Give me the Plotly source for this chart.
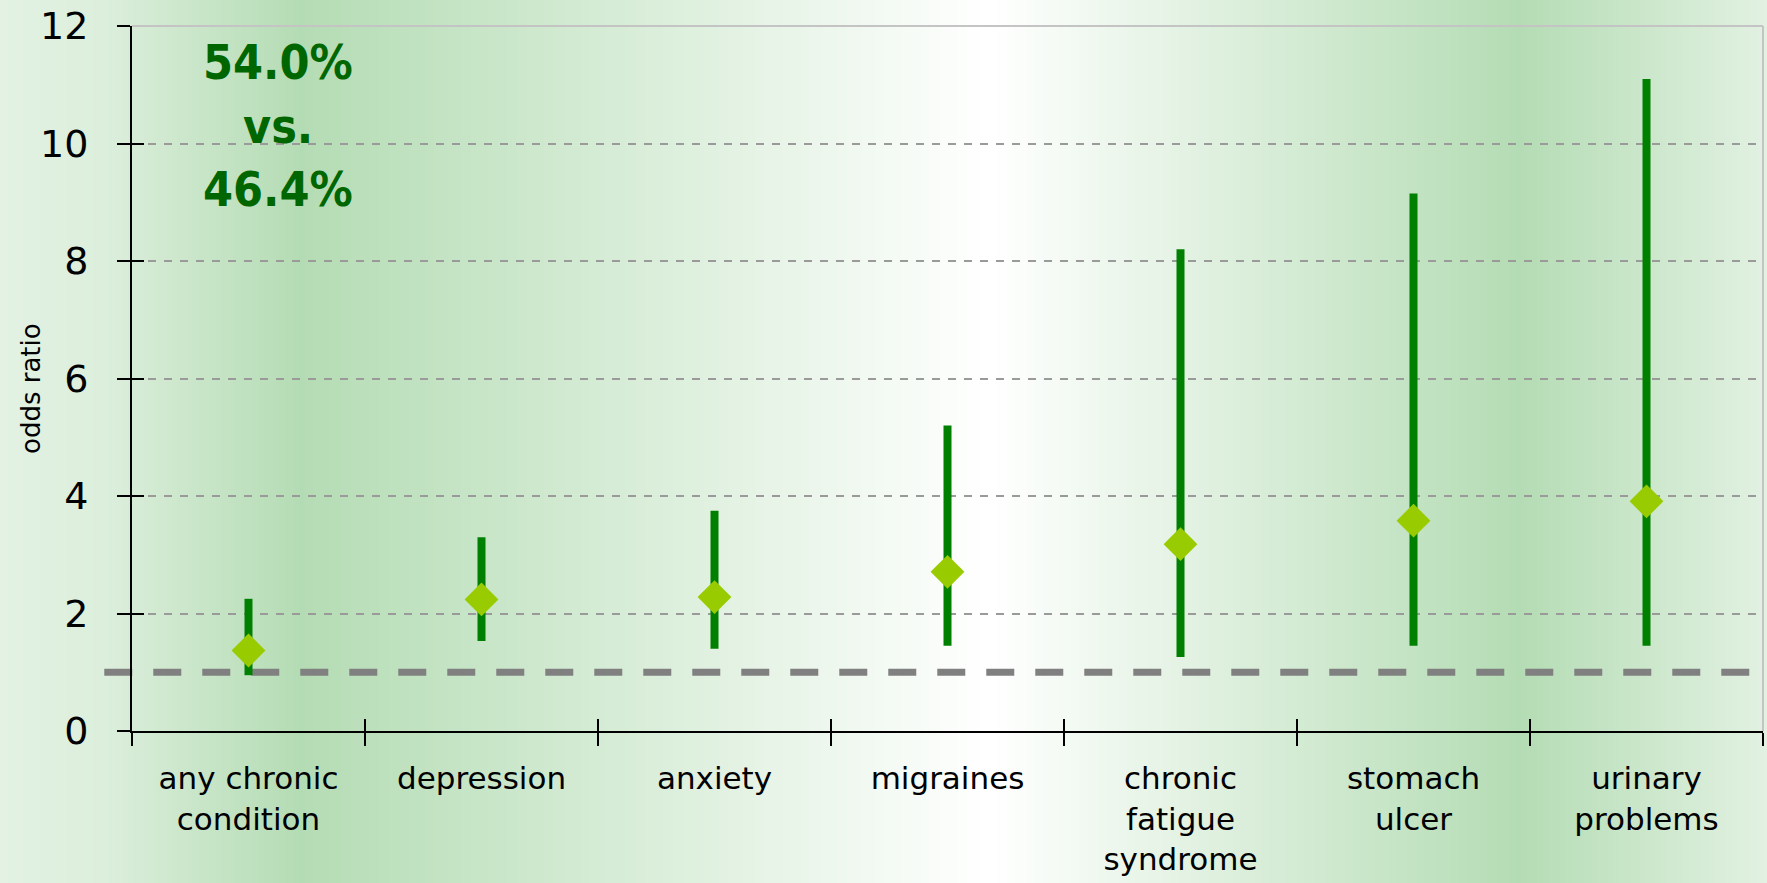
import base64
import struct
import zlib

import plotly.graph_objects as go

# ---------------- data ----------------
categories = [
    "any chronic<br>condition",
    "depression",
    "anxiety",
    "migraines",
    "chronic<br>fatigue<br>syndrome",
    "stomach<br>ulcer",
    "urinary<br>problems",
]
odds_ratio = [1.37, 2.24, 2.28, 2.71, 3.18, 3.58, 3.91]
ci_low = [0.95, 1.53, 1.40, 1.45, 1.26, 1.45, 1.45]
ci_high = [2.25, 3.30, 3.75, 5.20, 8.20, 9.15, 11.10]
y_ticks = [0, 2, 4, 6, 8, 10, 12]
reference_value = 1
annotation_lines = ["54.0%", "vs.", "46.4%"]

# ---------------- layout constants ----------------
W, H = 1767, 883
ML, MR, MT, MB = 132, 4, 26, 152
PW, PH = W - ML - MR, H - MT - MB
FONT = "DejaVu Sans, Verdana, sans-serif"
FONT_COND = "DejaVu Sans Condensed, DejaVu Sans, sans-serif"


def gradient_png(width, stops):
    """Build a 1-pixel-high horizontal gradient PNG as a data URI."""
    row = bytearray([0])
    for px in range(width):
        f = px / (width - 1)
        for i in range(len(stops) - 1):
            p0, c0 = stops[i]
            p1, c1 = stops[i + 1]
            if p0 <= f <= p1:
                t = 0 if p1 == p0 else (f - p0) / (p1 - p0)
                row += bytes(int(round(c0[k] + (c1[k] - c0[k]) * t)) for k in range(3))
                break
    raw = bytes(row)

    def chunk(tag, data):
        c = struct.pack(">I", len(data)) + tag + data
        return c + struct.pack(">I", zlib.crc32(tag + data) & 0xFFFFFFFF)

    png = b"\x89PNG\r\n\x1a\n"
    png += chunk(b"IHDR", struct.pack(">IIBBBBB", width, 1, 8, 2, 0, 0, 0))
    png += chunk(b"IDAT", zlib.compress(raw))
    png += chunk(b"IEND", b"")
    return "data:image/png;base64," + base64.b64encode(png).decode()


bg_stops = [
    (0.00, (227, 242, 227)),
    (0.06, (220, 238, 220)),
    (0.17, (180, 220, 180)),
    (0.56, (255, 255, 255)),
    (0.86, (180, 220, 180)),
    (1.00, (226, 241, 226)),
]
bg_uri = gradient_png(W, bg_stops)

# ---------------- traces ----------------
xs, ys = [], []
for c, lo, hi in zip(categories, ci_low, ci_high):
    xs += [c, c, None]
    ys += [lo, hi, None]

fig = go.Figure()
fig.add_trace(
    go.Scatter(
        x=xs, y=ys, mode="lines",
        line=dict(color="#008000", width=8),
        hoverinfo="skip", showlegend=False,
    )
)
fig.add_trace(
    go.Scatter(
        x=categories, y=odds_ratio, mode="markers",
        marker=dict(symbol="diamond", size=26, color="#99cc00", line=dict(width=0)),
        showlegend=False,
    )
)
# invisible trace to activate the overlay axes (inside half of cross ticks)
fig.add_trace(
    go.Scatter(
        x=categories, y=odds_ratio, xaxis="x2", yaxis="y2", mode="markers",
        marker=dict(opacity=0), hoverinfo="skip", showlegend=False,
    )
)

axis_font = dict(family=FONT, color="black")

# annotation lines, one per line to control the line spacing
ann_x = (278 - ML) / PW
ann_centers_px = [62, 126, 189]
annotations = [
    dict(
        text=t, xref="paper", yref="paper",
        x=ann_x, y=1 - (cy - MT) / PH, xanchor="center", yanchor="middle",
        showarrow=False,
        font=dict(family=FONT_COND, size=48, color="#006600", weight="bold"),
    )
    for t, cy in zip(annotation_lines, ann_centers_px)
]
annotations.append(
    dict(
        text="odds ratio", xref="paper", yref="paper",
        x=(31 - ML) / PW, y=(731 - 389) / PH, xanchor="center", yanchor="middle",
        textangle=-90, showarrow=False,
        font=dict(family=FONT, size=26, color="black"),
    )
)

fig.update_layout(
    width=W, height=H,
    margin=dict(l=ML, r=MR, t=MT, b=MB, pad=0),
    paper_bgcolor="white",
    plot_bgcolor="rgba(0,0,0,0)",
    font=dict(family=FONT, color="black"),
    xaxis=dict(
        type="category", categoryarray=categories, categoryorder="array",
        range=[-0.5, len(categories) - 0.5],
        tickson="boundaries", ticks="outside", ticklen=13, tickwidth=2, tickcolor="black",
        showline=True, linecolor="black", linewidth=2,
        showgrid=False, zeroline=False,
        tickfont=dict(size=31, **axis_font),
        ticklabelstandoff=19,
    ),
    yaxis=dict(
        range=[0, 12], tickvals=y_ticks,
        ticks="outside", ticklen=13, tickwidth=2, tickcolor="black",
        showline=True, linecolor="black", linewidth=2,
        showgrid=True, gridcolor="#9a9a9a", gridwidth=2, griddash="8px,8px",
        zeroline=False,
        tickfont=dict(size=38, **axis_font),
        ticklabelstandoff=21,
    ),
    xaxis2=dict(
        type="category", categoryarray=categories, categoryorder="array",
        range=[-0.5, len(categories) - 0.5],
        overlaying="x", anchor="y", side="bottom",
        tickson="boundaries", ticks="inside", ticklen=12, tickwidth=2, tickcolor="black",
        showticklabels=False, showgrid=False, showline=False, zeroline=False,
    ),
    yaxis2=dict(
        range=[0, 12], tickvals=y_ticks,
        overlaying="y", anchor="x", side="left",
        ticks="inside", ticklen=12, tickwidth=2, tickcolor="black",
        showticklabels=False, showgrid=False, showline=False, zeroline=False,
    ),
    images=[
        dict(
            source=bg_uri, xref="paper", yref="paper",
            x=-ML / PW, y=1 + MT / PH, sizex=W / PW, sizey=H / PH,
            xanchor="left", yanchor="top", sizing="stretch", layer="below",
        )
    ],
    shapes=[
        # light grey frame (top and right)
        dict(type="line", xref="paper", yref="paper", x0=0, x1=1, y0=1, y1=1,
             line=dict(color="#c4c4c4", width=2), layer="below"),
        dict(type="line", xref="paper", yref="paper", x0=1, x1=1, y0=0, y1=1,
             line=dict(color="#c4c4c4", width=2), layer="below"),
        # reference line at odds ratio = 1
        dict(type="line", xref="paper", yref="y", x0=-0.017, x1=1.01,
             y0=reference_value, y1=reference_value,
             line=dict(color="#808080", width=7, dash="28px,21px"), layer="below"),
    ],
    annotations=annotations,
)

fig.write_html(
    "out.html",
    config={"displayModeBar": False},
    post_script="document.body.style.margin='0';document.body.style.overflow='hidden';",
)
